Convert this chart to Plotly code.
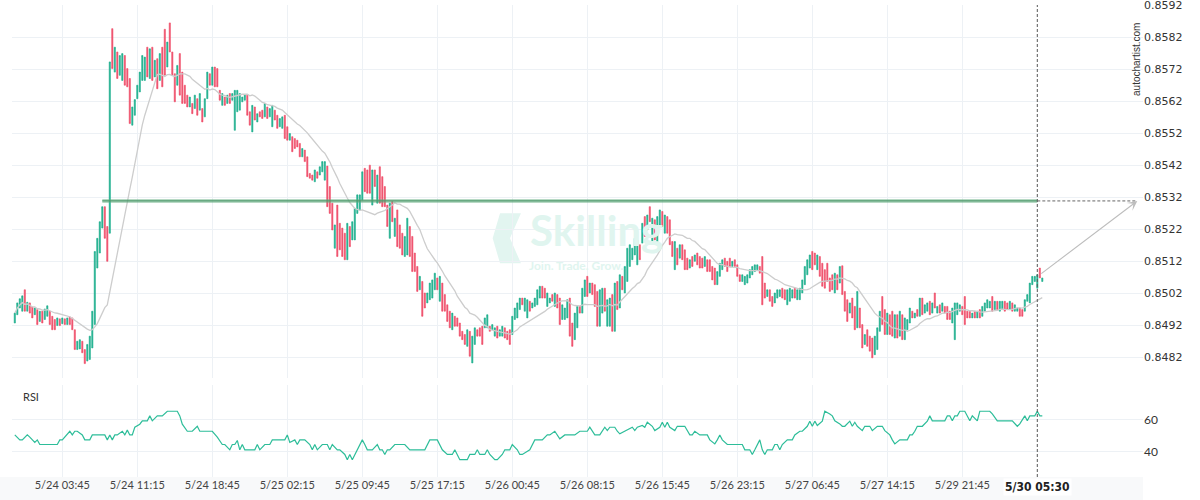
import pandas as pd
import plotly.graph_objects as go
from plotly.subplots import make_subplots

# ---------------- categories (15-minute bars) ----------------
times = (list(pd.date_range("2023-05-23 23:00", "2023-05-27 17:00", freq="15min"))
         + list(pd.date_range("2023-05-29 17:15", "2023-05-29 21:45", freq="15min"))
         + list(pd.date_range("2023-05-29 22:15", periods=32, freq="15min")))
time_labels = [f"{t.month}/{t.day} {t:%H:%M}" for t in times]

tick_labels = ["5/24 03:45", "5/24 11:15", "5/24 18:45", "5/25 02:15", "5/25 09:45",
               "5/25 17:15", "5/26 00:45", "5/26 08:15", "5/26 15:45", "5/26 23:15",
               "5/27 06:45", "5/27 14:15", "5/29 21:45"]
marker_label = "5/30 05:30"
price_ticks = [0.8482, 0.8492, 0.8502, 0.8512, 0.8522, 0.8532, 0.8542, 0.8552,
               0.8562, 0.8572, 0.8582, 0.8592]
rsi_ticks = [40, 60]

# ---------------- series values ----------------
opens = [
    0.84927, 0.84953, 0.84974, 0.84964, 0.85031, 0.84964, 0.84990, 0.84977, 0.84953, 0.84969,
    0.84932, 0.84964, 0.84938, 0.84948, 0.84964, 0.84948, 0.84938, 0.84919, 0.84940, 0.84925,
    0.84940, 0.84922, 0.84946, 0.84943, 0.84906, 0.84844, 0.84846, 0.84870, 0.84844, 0.84808,
    0.84813, 0.84849, 0.84922, 0.85099, 0.85146, 0.85224, 0.85291, 0.85229, 0.85208, 0.85848,
    0.85712, 0.85775, 0.85702, 0.85686, 0.85764, 0.85723, 0.85692, 0.85546, 0.85577, 0.85629,
    0.85650, 0.85686, 0.85686, 0.85790, 0.85692, 0.85790, 0.85697, 0.85754, 0.85686, 0.85790,
    0.85846, 0.85728, 0.85866, 0.85775, 0.85707, 0.85671, 0.85770, 0.85712, 0.85671, 0.85640,
    0.85603, 0.85614, 0.85598, 0.85629, 0.85593, 0.85598, 0.85572, 0.85629, 0.85707, 0.85671,
    0.85728, 0.85723, 0.85655, 0.85608, 0.85634, 0.85614, 0.85645, 0.85624, 0.85530, 0.85588,
    0.85593, 0.85619, 0.85624, 0.85640, 0.85588, 0.85525, 0.85603, 0.85556, 0.85588, 0.85593,
    0.85572, 0.85603, 0.85572, 0.85541, 0.85593, 0.85577, 0.85541, 0.85536, 0.85577, 0.85541,
    0.85499, 0.85510, 0.85504, 0.85499, 0.85489, 0.85447, 0.85468, 0.85447, 0.85395, 0.85390,
    0.85369, 0.85400, 0.85390, 0.85400, 0.85374, 0.85418, 0.85354, 0.85302, 0.85161, 0.85296,
    0.85239, 0.85224, 0.85208, 0.85125, 0.85229, 0.85187, 0.85187, 0.85270, 0.85281, 0.85312,
    0.85411, 0.85406, 0.85421, 0.85296, 0.85406, 0.85302, 0.85416, 0.85385, 0.85354, 0.85296,
    0.85192, 0.85307, 0.85198, 0.85281, 0.85234, 0.85208, 0.85135, 0.85140, 0.85229, 0.85198,
    0.85146, 0.85104, 0.85031, 0.85057, 0.85021, 0.84990, 0.85000, 0.85005, 0.85031, 0.85068,
    0.84995, 0.85052, 0.85016, 0.84984, 0.84964, 0.84906, 0.84948, 0.84943, 0.84927, 0.84901,
    0.84891, 0.84854, 0.84901, 0.84802, 0.84860, 0.84906, 0.84912, 0.84917, 0.84912, 0.84912,
    0.84917, 0.84906, 0.84886, 0.84917, 0.84886, 0.84886, 0.84912, 0.84901, 0.84906, 0.84891,
    0.84938, 0.84943, 0.84969, 0.85005, 0.84964, 0.84943, 0.84995, 0.84974, 0.84979, 0.84984,
    0.85005, 0.85042, 0.85036, 0.84979, 0.84990, 0.85016, 0.84979, 0.85016, 0.85005, 0.84938,
    0.84938, 0.84943, 0.85005, 0.84927, 0.84875, 0.84912, 0.84979, 0.84958, 0.85010, 0.85073,
    0.85021, 0.85052, 0.85047, 0.85026, 0.84917, 0.84958, 0.85036, 0.84917, 0.84917, 0.85016,
    0.84901, 0.85057, 0.84974, 0.85073, 0.85021, 0.85057, 0.85104, 0.85125, 0.85140, 0.85109,
    0.85172, 0.85177, 0.85260, 0.85218, 0.85291, 0.85182, 0.85250, 0.85172, 0.85234, 0.85276,
    0.85208, 0.85260, 0.85250, 0.85182, 0.85094, 0.85161, 0.85130, 0.85172, 0.85156, 0.85130,
    0.85099, 0.85135, 0.85120, 0.85146, 0.85135, 0.85130, 0.85104, 0.85125, 0.85125, 0.85104,
    0.85099, 0.85047, 0.85073, 0.85094, 0.85130, 0.85120, 0.85130, 0.85104, 0.85125, 0.85109,
    0.85078, 0.85057, 0.85047, 0.85052, 0.85068, 0.85078, 0.85088, 0.85094, 0.85104, 0.85135,
    0.85052, 0.85010, 0.85031, 0.85010, 0.84990, 0.85005, 0.85010, 0.85036, 0.85031, 0.84984,
    0.84995, 0.85005, 0.85036, 0.85000, 0.85000, 0.85021, 0.85047, 0.85078, 0.85099, 0.85151,
    0.85146, 0.85094, 0.85135, 0.85114, 0.85094, 0.85114, 0.85068, 0.85078, 0.85021, 0.85078,
    0.85052, 0.85106, 0.85026, 0.85000, 0.84958, 0.85005, 0.84979, 0.84912, 0.84974, 0.84922,
    0.84860, 0.84906, 0.84886, 0.84880, 0.84828, 0.84844, 0.84901, 0.85010, 0.84969, 0.84891,
    0.84953, 0.84964, 0.84880, 0.84953, 0.84886, 0.84953, 0.84875, 0.84906, 0.84927, 0.84964,
    0.84943, 0.84969, 0.84948, 0.85005, 0.84958, 0.84964, 0.84995, 0.84958, 0.85021, 0.84958,
    0.84984, 0.84964, 0.84979, 0.84979, 0.84964, 0.84927, 0.84875, 0.84953, 0.84964, 0.84979,
    0.85010, 0.84964, 0.84964, 0.84943, 0.84964, 0.84943, 0.84969, 0.84948, 0.84964, 0.84974,
    0.84974, 0.85010, 0.84969, 0.84995, 0.84964, 0.84969, 0.84995, 0.84990, 0.84969, 0.84990,
    0.84964, 0.84964, 0.84974, 0.84969, 0.84964, 0.84995, 0.84990, 0.85047, 0.85057, 0.85036,
    0.85099, 0.85057,
]
closes = [
    0.84958, 0.84990, 0.85003, 0.85012, 0.84964, 0.84992, 0.84958, 0.84943, 0.84974, 0.84922,
    0.84964, 0.84927, 0.84971, 0.84981, 0.84922, 0.84906, 0.84906, 0.84943, 0.84919, 0.84943,
    0.84922, 0.84943, 0.84922, 0.84906, 0.84844, 0.84870, 0.84875, 0.84834, 0.84800, 0.84860,
    0.84886, 0.84964, 0.85151, 0.85192, 0.85244, 0.85291, 0.85192, 0.85120, 0.85744, 0.85723,
    0.85790, 0.85692, 0.85764, 0.85770, 0.85671, 0.85666, 0.85551, 0.85603, 0.85626, 0.85671,
    0.85712, 0.85764, 0.85759, 0.85697, 0.85785, 0.85686, 0.85749, 0.85660, 0.85770, 0.85666,
    0.85702, 0.85806, 0.85775, 0.85702, 0.85619, 0.85733, 0.85640, 0.85614, 0.85614, 0.85603,
    0.85634, 0.85582, 0.85640, 0.85577, 0.85645, 0.85556, 0.85629, 0.85712, 0.85671, 0.85728,
    0.85666, 0.85666, 0.85624, 0.85645, 0.85608, 0.85640, 0.85614, 0.85645, 0.85655, 0.85655,
    0.85645, 0.85634, 0.85640, 0.85577, 0.85546, 0.85608, 0.85562, 0.85582, 0.85572, 0.85567,
    0.85614, 0.85567, 0.85598, 0.85608, 0.85562, 0.85536, 0.85567, 0.85572, 0.85504, 0.85499,
    0.85520, 0.85463, 0.85473, 0.85478, 0.85447, 0.85473, 0.85432, 0.85385, 0.85380, 0.85374,
    0.85406, 0.85380, 0.85416, 0.85432, 0.85432, 0.85291, 0.85270, 0.85218, 0.85234, 0.85135,
    0.85156, 0.85135, 0.85125, 0.85239, 0.85166, 0.85244, 0.85286, 0.85328, 0.85328, 0.85400,
    0.85338, 0.85333, 0.85333, 0.85406, 0.85354, 0.85390, 0.85302, 0.85291, 0.85291, 0.85229,
    0.85302, 0.85244, 0.85255, 0.85166, 0.85161, 0.85140, 0.85198, 0.85255, 0.85135, 0.85088,
    0.85088, 0.85026, 0.85073, 0.84948, 0.84974, 0.85021, 0.85052, 0.85062, 0.85083, 0.85031,
    0.85073, 0.84964, 0.84964, 0.84932, 0.84912, 0.84958, 0.84917, 0.84917, 0.84886, 0.84875,
    0.84860, 0.84906, 0.84823, 0.84886, 0.84912, 0.84886, 0.84886, 0.84860, 0.84943, 0.84953,
    0.84901, 0.84922, 0.84912, 0.84880, 0.84906, 0.84917, 0.84880, 0.84875, 0.84860, 0.84948,
    0.84974, 0.84990, 0.85005, 0.84984, 0.85005, 0.85000, 0.84964, 0.84990, 0.85005, 0.85031,
    0.85042, 0.85005, 0.85005, 0.85021, 0.85005, 0.84995, 0.85021, 0.84974, 0.84922, 0.84984,
    0.84974, 0.85000, 0.84886, 0.84854, 0.84958, 0.84979, 0.84958, 0.85036, 0.85062, 0.85010,
    0.85052, 0.85016, 0.84979, 0.84917, 0.85031, 0.85036, 0.84964, 0.85000, 0.85005, 0.84901,
    0.85052, 0.84969, 0.85078, 0.85031, 0.85104, 0.85161, 0.85172, 0.85161, 0.85192, 0.85187,
    0.85125, 0.85239, 0.85198, 0.85265, 0.85244, 0.85255, 0.85187, 0.85260, 0.85281, 0.85229,
    0.85265, 0.85208, 0.85172, 0.85135, 0.85182, 0.85109, 0.85172, 0.85125, 0.85094, 0.85094,
    0.85125, 0.85104, 0.85140, 0.85109, 0.85099, 0.85099, 0.85135, 0.85088, 0.85088, 0.85062,
    0.85047, 0.85088, 0.85114, 0.85125, 0.85104, 0.85088, 0.85104, 0.85120, 0.85104, 0.85073,
    0.85057, 0.85078, 0.85073, 0.85078, 0.85094, 0.85104, 0.85109, 0.85109, 0.85083, 0.84984,
    0.85005, 0.85031, 0.84995, 0.84979, 0.85021, 0.85031, 0.85031, 0.85005, 0.85000, 0.85031,
    0.85036, 0.85031, 0.85005, 0.85031, 0.85036, 0.85062, 0.85104, 0.85125, 0.85140, 0.85094,
    0.85109, 0.85140, 0.85073, 0.85042, 0.85036, 0.85057, 0.85026, 0.85031, 0.85083, 0.85031,
    0.85104, 0.85016, 0.84964, 0.84932, 0.84990, 0.84943, 0.84906, 0.85026, 0.84912, 0.84849,
    0.84891, 0.84854, 0.84839, 0.84818, 0.84886, 0.84912, 0.84964, 0.84922, 0.84891, 0.84958,
    0.84891, 0.84886, 0.84953, 0.84880, 0.84964, 0.84875, 0.84943, 0.84938, 0.84974, 0.84943,
    0.84958, 0.84948, 0.85005, 0.84953, 0.84984, 0.84990, 0.84953, 0.84990, 0.84974, 0.84979,
    0.84958, 0.84990, 0.84958, 0.84938, 0.84938, 0.84974, 0.84990, 0.84990, 0.84984, 0.84953,
    0.84922, 0.84943, 0.84943, 0.84958, 0.84943, 0.84964, 0.84943, 0.84979, 0.84990, 0.85000,
    0.84995, 0.84964, 0.84995, 0.84969, 0.84995, 0.84995, 0.84964, 0.84969, 0.84995, 0.84964,
    0.84984, 0.84974, 0.84948, 0.84948, 0.85000, 0.85016, 0.85052, 0.85073, 0.85073, 0.85078,
    0.85068, 0.85068,
]

rsi_bar = [
    0, 2, 3, 5, 6, 7, 8, 9, 10, 12, 17, 18, 19, 22, 23, 24, 25, 27, 28, 30,
    31, 36, 37, 38, 39, 40, 41, 43, 44, 45, 46, 47, 48, 50, 51, 53, 54, 55, 57, 59,
    61, 65, 66, 67, 69, 71, 73, 74, 79, 81, 83, 84, 86, 87, 88, 89, 90, 91, 92, 96,
    97, 98, 100, 102, 103, 108, 109, 110, 112, 113, 114, 116, 118, 119, 120, 121, 123, 125, 126, 127,
    129, 130, 132, 133, 134, 135, 136, 137, 138, 139, 140, 141, 143, 145, 146, 147, 148, 149, 150, 152,
    156, 158, 164, 165, 166, 169, 171, 173, 175, 176, 177, 178, 181, 182, 184, 185, 186, 188, 189, 190,
    192, 193, 195, 196, 198, 199, 201, 202, 203, 206, 208, 211, 213, 214, 216, 217, 218, 220, 224, 226,
    229, 230, 231, 232, 234,
    236, 237, 238, 240, 241, 242, 244, 245, 247, 248, 249, 251, 252, 253, 255, 256, 258, 259, 260, 261,
    262, 264, 265, 268, 269, 270, 271, 272, 274, 277, 278, 280, 281, 282, 283, 285, 291, 292, 294, 295,
    296, 297, 298, 299, 300, 301, 303, 304, 305, 306, 307, 309, 311, 312, 314, 315, 317, 318, 319, 320,
    321, 323, 324, 326, 327, 328, 330, 331, 332, 334, 335, 336, 337, 339, 340, 342, 343, 345, 347, 348,
    350, 351, 352, 354, 357, 358, 359, 360, 361, 363, 365, 366, 367, 369, 372, 373, 374, 375, 376, 377,
    378, 380, 381, 382, 383, 385, 386, 389, 390, 391, 393, 399, 401, 402, 404, 405, 406, 408, 409, 410, 411,
]
rsi_val = [
    50.4, 47.3, 47.3, 50.4, 49.0, 47.3, 45.7, 47.3, 44.4, 44.4, 44.4, 47.3, 47.3, 52.7, 50.4, 52.7, 52.7, 50.4, 47.3, 47.3,
    50.4, 50.4, 47.3, 50.4, 47.3, 50.4, 50.4, 52.7, 50.4, 53.4, 50.4, 50.4, 55.2, 57.1, 59.2, 59.2, 62.3, 59.2, 62.3, 62.3,
    65.2, 65.2, 62.3, 57.1, 52.7, 52.7, 55.8, 52.7, 52.7, 49.0, 44.4, 44.4, 41.1, 44.4, 44.4, 46.9, 41.1, 44.4, 41.1, 41.1,
    44.4, 41.1, 44.4, 44.4, 47.3, 47.3, 50.4, 45.7, 47.3, 44.4, 47.3, 47.3, 44.4, 41.1, 44.4, 41.1, 44.4, 44.4, 41.1, 44.4,
    41.1, 41.1, 38.2, 34.9, 38.2, 34.9, 38.2, 41.1, 44.4, 47.3, 44.4, 41.1, 41.1, 44.4, 41.1, 41.1, 38.2, 41.1, 41.1, 44.4,
    44.4, 41.1, 41.1, 44.4, 47.3, 47.3, 41.1, 38.2, 38.2, 41.1, 38.2, 34.9, 34.9, 38.2, 38.2, 41.1, 38.2, 38.2, 41.1, 38.2,
    34.9, 34.9, 38.2, 41.1, 41.1, 44.4, 41.1, 38.2, 38.2, 41.1, 47.3, 47.3, 50.4, 50.4, 52.7, 50.4, 48.0, 50.4, 50.4, 52.7,
    52.7, 55.2, 52.7, 50.4, 50.4,
    55.2, 53.1, 55.2, 55.2, 52.7, 51.1, 52.7, 53.1, 55.2, 53.1, 55.2, 56.3, 55.2, 58.3, 55.8, 53.1, 55.2, 58.3, 55.2, 58.3,
    55.2, 53.1, 55.8, 55.8, 53.1, 50.4, 50.4, 52.7, 50.4, 50.4, 47.3, 44.8, 47.3, 50.4, 47.3, 44.4, 44.4, 41.1, 41.1, 38.2,
    41.1, 44.4, 47.3, 41.1, 38.2, 41.1, 41.1, 44.4, 44.4, 41.1, 44.4, 47.3, 47.3, 50.4, 52.7, 52.7, 55.8, 59.0, 55.8, 59.0,
    56.3, 59.0, 65.2, 63.5, 62.3, 59.2, 57.3, 55.8, 55.8, 59.0, 55.8, 58.3, 55.8, 53.1, 55.8, 55.8, 53.1, 55.8, 55.8, 53.1,
    50.4, 47.3, 44.8, 47.3, 47.3, 50.4, 50.4, 52.7, 55.8, 55.8, 59.0, 62.3, 59.2, 59.2, 59.2, 62.3, 62.3, 59.2, 62.3, 62.3,
    65.2, 65.2, 62.3, 59.2, 62.3, 59.2, 65.2, 65.2, 65.2, 63.5, 59.2, 59.2, 55.8, 57.3, 62.3, 59.2, 62.3, 62.3, 65.2, 62.3, 62.3,
]

level_price = 0.85309          # breakout level (green line)
level_start_label = "5/24 07:45"
ma_period = 20
projection_bars = 40

assert len(opens) == len(closes) == len(times), (len(opens), len(closes), len(times))
assert len(rsi_bar) == len(rsi_val)

# ---------------- derived ----------------
bars = list(range(len(times)))
highs = [max(o, c) for o, c in zip(opens, closes)]
lows = [min(o, c) for o, c in zip(opens, closes)]
ma = pd.Series(closes).rolling(ma_period, min_periods=1).mean()
tick_idx = [time_labels.index(l) for l in tick_labels]
marker_idx = time_labels.index(marker_label)
level_start = time_labels.index(level_start_label)
target_idx = marker_idx + projection_bars

UP = "#1fb08e"
DOWN = "#f04f6a"
GRID = "#edf1f5"
X_RANGE = [-1.12, 451.28]

fig = make_subplots(rows=2, cols=1, shared_xaxes=True)

fig.add_trace(go.Candlestick(
    x=bars, open=opens, high=highs, low=lows, close=closes,
    increasing=dict(line=dict(color=UP, width=0.6), fillcolor=UP),
    decreasing=dict(line=dict(color=DOWN, width=0.6), fillcolor=DOWN),
    whiskerwidth=0, showlegend=False, hoverinfo="skip"), row=1, col=1)
fig.add_trace(go.Scatter(
    x=bars, y=ma, mode="lines", line=dict(color="#cdcdcd", width=1.3),
    showlegend=False, hoverinfo="skip"), row=1, col=1)
fig.add_trace(go.Scatter(
    x=rsi_bar, y=rsi_val, mode="lines", line=dict(color="#2dbd99", width=1.2),
    showlegend=False, hoverinfo="skip"), row=2, col=1)

plot_h = 472.0
fig.update_layout(
    width=1200, height=500,
    margin=dict(l=12, r=57, t=5, b=23),
    paper_bgcolor="white", plot_bgcolor="white", showlegend=False,
    xaxis=dict(range=X_RANGE, tickvals=tick_idx, showticklabels=False, showgrid=True,
               gridcolor=GRID, zeroline=False, ticks="", rangeslider=dict(visible=False)),
    xaxis2=dict(range=X_RANGE, tickvals=tick_idx, ticktext=tick_labels, showgrid=True,
                gridcolor=GRID, zeroline=False, ticks="",
                tickfont=dict(family="Lato", size=11, color="#444")),
    yaxis=dict(domain=[(477 - 378) / plot_h, 1], range=[0.84755, 0.85922], side="right",
               tickvals=price_ticks, ticktext=[f"{v:.4f}" for v in price_ticks],
               tickfont=dict(family="DejaVu Sans", size=11, color="#333"),
               ticklabeloverflow="allow",
               gridcolor=GRID, zeroline=False, ticks="", automargin=False),
    yaxis2=dict(domain=[0, (477 - 385) / plot_h], range=[24.1, 81.6], side="right",
                tickvals=rsi_ticks, tickfont=dict(family="Lato", size=12, color="#333"),
                gridcolor=GRID, zeroline=False, ticks="", automargin=False),
)
fig.update_xaxes(automargin=False)

shapes = [
    dict(type="rect", xref="paper", yref="paper", x0=-0.011, x1=1, y0=-23 / plot_h, y1=0,
         fillcolor="#f8f9fa", line=dict(width=0), layer="below"),
    dict(type="path", xref="paper", yref="paper", layer="below",
         path="M 0.4315 0.5587 L 0.4500 0.5587 L 0.4403 0.5057 L 0.4500 0.4528 "
              "L 0.4315 0.4528 L 0.4250 0.5057 Z",
         fillcolor="#e2f5f0", line=dict(width=0)),
    dict(type="line", xref="x", yref="y", x0=level_start, x1=marker_idx,
         y0=level_price, y1=level_price, line=dict(color="rgba(95,170,125,0.45)", width=4)),
    dict(type="line", xref="x", yref="y", x0=level_start, x1=marker_idx,
         y0=level_price, y1=level_price, line=dict(color="#4f9a6c", width=1.2)),
    dict(type="line", xref="x", yref="paper", x0=marker_idx, x1=marker_idx, y0=0, y1=1,
         line=dict(color="#555", width=1, dash="3px,2px")),
    dict(type="line", xref="x", yref="y", x0=marker_idx, x1=target_idx,
         y0=level_price, y1=level_price, line=dict(color="#666", width=1, dash="3px,2px")),
]
fig.update_layout(shapes=shapes)

annotations = [
    dict(x=target_idx, y=level_price, xref="x", yref="y", ax=marker_idx + 1,
         ay=closes[marker_idx], axref="x", ayref="y", text="", showarrow=True,
         arrowhead=3, arrowsize=1.5, arrowwidth=1.1, arrowcolor="#bdbdbd"),
    dict(x=0.4562, y=(477 - 230) / plot_h, xref="paper", yref="paper", text="<b>Skilling</b>",
         showarrow=False, xanchor="left", yanchor="middle",
         font=dict(family="Lato", size=42, color="#e0f5ef")),
    dict(x=0.4553, y=(477 - 265) / plot_h, xref="paper", yref="paper",
         text="<b>Join. Trade. Grow.</b>", showarrow=False, xanchor="left", yanchor="middle",
         font=dict(family="Lato", size=12, color="#e0f5ef")),
    dict(x=0.9947, y=0.8835, xref="paper", yref="paper", text="autochartist.com",
         textangle=-90, showarrow=False, xanchor="center", yanchor="middle",
         font=dict(family="Liberation Sans", size=10, color="#333")),
    dict(x=0.008, y=0.1695, xref="paper", yref="paper", text="RSI", showarrow=False,
         xanchor="left", yanchor="middle", font=dict(family="Lato", size=11, color="#333")),
    dict(x=marker_idx, y=-10 / plot_h, xref="x2", yref="paper", text=f"<b>{marker_label}</b>",
         showarrow=False, xanchor="center", yanchor="middle", bgcolor="white",
         font=dict(family="DejaVu Sans Condensed", size=12, color="#222")),
]
fig.update_layout(annotations=annotations)

fig.write_html("out.html", config={"displayModeBar": False},
               post_script="document.body.style.margin='0';")
